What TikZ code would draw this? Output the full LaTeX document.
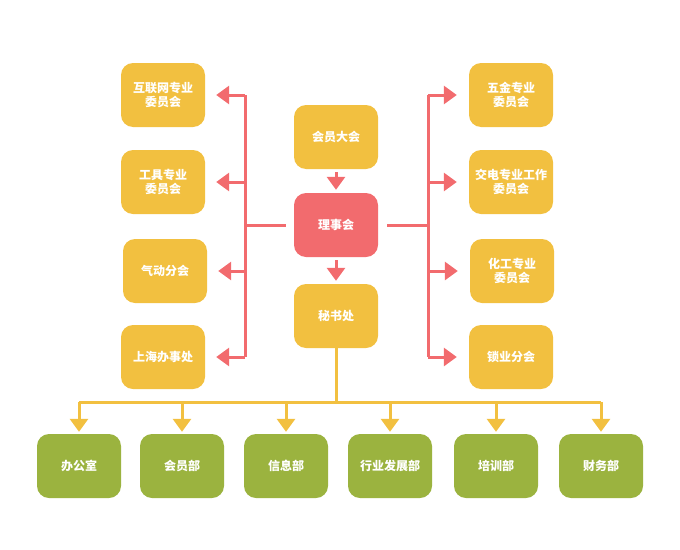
\documentclass[tikz,border=0pt]{standalone}
\usepackage{fontspec}
\newfontfamily\cjk{Noto Sans CJK SC}
\usetikzlibrary{arrows.meta}
\definecolor{gold}{HTML}{F2C040}
\definecolor{coral}{HTML}{F26B6E}
\definecolor{olive}{HTML}{9BB33F}

\begin{document}
\begin{tikzpicture}[x=1pt, y=-1pt,
    box/.style={rounded corners=12pt, minimum width=84pt, minimum height=64pt, inner sep=0pt, align=center, text=white, font=\cjk\bfseries\fontsize{12}{14}\selectfont},
    unit/.style={box, fill=gold},
    council/.style={box, fill=coral},
    dept/.style={box, fill=olive},
    redline/.style={color=coral, line width=3pt},
    goldline/.style={color=gold, line width=3pt},
    arrowtip/.style={-{Triangle[length=13pt,width=18pt]}}]
  \useasboundingbox (0,0) rectangle (680,549);
  % centre column
  \node[unit] (assembly) at (336,137) {会员大会};
  \node[council] (board) at (336,225) {理事会};
  \node[unit] (office) at (336,316) {秘书处};
  % committees
  \node[unit] (l1) at (163,95) {互联网专业\\委员会};
  \node[unit] (l2) at (163,182) {工具专业\\委员会};
  \node[unit] (l3) at (165,271) {气动分会};
  \node[unit] (l4) at (163,357) {上海办事处};
  \node[unit] (r1) at (511,95) {五金专业\\委员会};
  \node[unit] (r2) at (511,182) {交电专业工作\\委员会};
  \node[unit] (r3) at (512,271) {化工专业\\委员会};
  \node[unit] (r4) at (511,357) {锁业分会};
  % departments
  \node[dept] (d1) at (79,466) {办公室};
  \node[dept] (d2) at (182,466) {会员部};
  \node[dept] (d3) at (286,466) {信息部};
  \node[dept] (d4) at (390,466) {行业发展部};
  \node[dept] (d5) at (496,466) {培训部};
  \node[dept] (d6) at (601,466) {财务部};
  \coordinate (lbus) at (245,225);
  \coordinate (rbus) at (428,225);
  \coordinate (dbus) at (336,402);
  \draw[redline,arrowtip] ([yshift=-3pt]assembly.south) -- ([yshift=3pt]board.north);
  \draw[redline,arrowtip] ([yshift=-3pt]board.south) -- ([yshift=3pt]office.north);
  \draw[redline] ([xshift=-8pt]board.west) -- (lbus);
  \draw[redline] ([xshift=9pt]board.east) -- (rbus);
  \draw[redline] (lbus |- l1) -- (lbus |- l4);
  \draw[redline] (rbus |- r1) -- (rbus |- r4);
  \foreach \n in {l1,l2,l3,l4}
    \draw[redline,arrowtip] (lbus |- \n) -- ([xshift=11pt]\n.east);
  \foreach \n in {r1,r2,r3,r4}
    \draw[redline,arrowtip] (rbus |- \n) -- ([xshift=-12pt]\n.west);
  \draw[goldline] (office.south) -- (dbus);
  \draw[goldline] (dbus -| d1) -- (dbus -| d6);
  \foreach \n in {d1,d2,d3,d4,d5,d6}
    \draw[goldline,arrowtip] (dbus -| \n) -- ([yshift=2pt]\n.north);
\end{tikzpicture}
\end{document}
